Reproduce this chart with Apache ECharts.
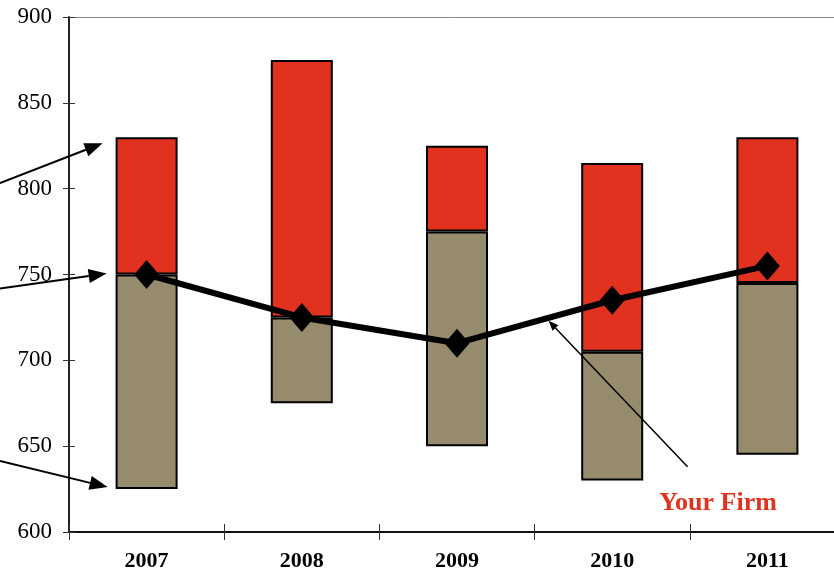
<!DOCTYPE html>
<html>
<head>
<meta charset="utf-8">
<script src="https://cdn.jsdelivr.net/npm/echarts@6/dist/echarts.min.js"></script>
<style>
    html, body { margin: 0; padding: 0; background: #fff; }
    #chart { width: 834px; height: 570px; }
</style>
</head>
<body>
<div id="chart"></div>
<script>
const years = ["2007", "2008", "2009", "2010", "2011"];
const lowVals = [625, 675, 650, 630, 645];
const midVals = [750, 725, 775, 705, 745];
const highVals = [830, 875, 825, 815, 830];
const firmVals = [750, 725, 710, 735, 755];
const yMin = 600, yMax = 900, yStep = 50;

const RED = "#e0321f";
const TAN = "#978b6d";
const serif = "'Liberation Serif', 'DejaVu Serif', serif";

// floating bars: invisible base + two stacked pieces
const baseData = lowVals;
const tanData = midVals.map((v, i) => v - lowVals[i]);
const redData = highVals.map((v, i) => v - midVals[i]);

const myChart = echarts.init(document.getElementById("chart"));

const yCommon = { type: "value", min: yMin, max: yMax, interval: yStep, splitLine: { show: false } };
const xCommon = { type: "category", data: years, boundaryGap: true };

const option = {
    animation: false,
    grid: { left: 69, top: 17, width: 776, bottom: 38, containLabel: false, outerBoundsMode: "none" },
    xAxis: [
        {
            ...xCommon, position: "bottom",
            axisLine: { lineStyle: { color: "#111", width: 2 } },
            axisTick: { show: true, length: 8, lineStyle: { color: "#333" } },
            axisLabel: { color: "#000", fontFamily: serif, fontSize: 22, fontWeight: "bold", margin: 18 }
        },
        {
            ...xCommon, position: "bottom", offset: 0,
            axisLine: { show: false },
            axisTick: { show: true, inside: true, length: 8, lineStyle: { color: "#333" } },
            axisLabel: { show: false }
        },
        {
            ...xCommon, position: "top", offset: 0,
            axisLine: { lineStyle: { color: "#888", width: 1 } },
            axisTick: { show: false },
            axisLabel: { show: false }
        }
    ],
    yAxis: [
        {
            ...yCommon, position: "left",
            axisLine: { show: true, lineStyle: { color: "#222", width: 2 } },
            axisTick: { show: true, length: 6, lineStyle: { color: "#333" } },
            axisLabel: { color: "#000", fontFamily: serif, fontSize: 23, margin: 17 }
        },
        {
            ...yCommon, position: "left", offset: 0,
            axisLine: { show: false },
            axisTick: { show: true, inside: true, length: 6, lineStyle: { color: "#333" } },
            axisLabel: { show: false }
        }
    ],
    series: [
        {
            name: "base", type: "bar", stack: "range", data: baseData, barWidth: 62,
            itemStyle: { color: "transparent" }, silent: true
        },
        {
            name: "low", type: "bar", stack: "range", data: tanData, barWidth: 62,
            itemStyle: { color: TAN, borderColor: "#000", borderWidth: 2 }
        },
        {
            name: "high", type: "bar", stack: "range", data: redData, barWidth: 62,
            itemStyle: { color: RED, borderColor: "#000", borderWidth: 2 }
        },
        {
            name: "Your Firm", type: "line", data: firmVals, z: 5,
            symbol: "diamond", symbolSize: [25, 29],
            lineStyle: { color: "#000", width: 6 },
            itemStyle: { color: "#000" }
        }
    ]
};
myChart.setOption(option);

// arrow helper: shaft + filled head
function arrow(x1, y1, x2, y2, w, headLen, headW) {
    const ang = Math.atan2(y2 - y1, x2 - x1);
    const bx = x2 - headLen * Math.cos(ang), by = y2 - headLen * Math.sin(ang);
    const nx = -Math.sin(ang) * headW / 2, ny = Math.cos(ang) * headW / 2;
    return [
        { type: "line", shape: { x1: x1, y1: y1, x2: bx, y2: by }, style: { stroke: "#000", lineWidth: w }, z: 100 },
        { type: "polygon", shape: { points: [[x2, y2], [bx + nx, by + ny], [bx - nx, by - ny]] }, style: { fill: "#000" }, z: 100 }
    ];
}

const px = (cat, v) => myChart.convertToPixel({ xAxisIndex: 0, yAxisIndex: 0 }, [cat, v]);
const pTop = px(years[0], highVals[0]);
const pMid = px(years[0], midVals[0]);
const pLow = px(years[0], lowVals[0]);

// point on the firm line between 2009 and 2010
const a = px(years[2], firmVals[2]);
const b = px(years[3], firmVals[3]);
const t = 0.59;
const tip = [a[0] + (b[0] - a[0]) * t, a[1] + (b[1] - a[1]) * t + 3];

const graphics = []
    .concat(arrow(0, pTop[1] + 46, pTop[0] - 44, pTop[1] + 6, 2, 18, 14))
    .concat(arrow(0, pMid[1] + 14, pMid[0] - 40, pMid[1] - 1, 2, 18, 14))
    .concat(arrow(0, pLow[1] - 28, pLow[0] - 39, pLow[1] - 2, 2, 18, 14))
    .concat(arrow(tip[0] + 139, tip[1] + 146, tip[0], tip[1], 1.5, 10, 8));

graphics.push({
    type: "text", x: 718, y: 503, z: 100,
    style: { text: "Your Firm", fill: RED, font: "bold 26px " + serif, textAlign: "center", textVerticalAlign: "middle" }
});

myChart.setOption({ graphic: graphics });
</script>
</body>
</html>
